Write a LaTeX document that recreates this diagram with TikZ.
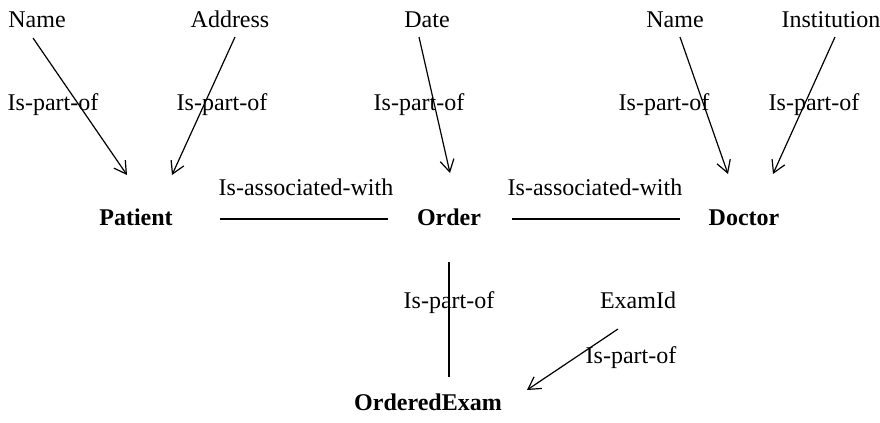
\documentclass[tikz,border=0pt]{standalone}
\usepackage{fontspec}
\setmainfont{Liberation Serif}
\usetikzlibrary{arrows.meta}
\begin{document}
\begin{tikzpicture}[x=0.5pt,y=-0.5pt,
  lbl/.style={inner sep=0pt,anchor=base,font=\fontsize{12}{14}\selectfont},
  ent/.style={lbl,font=\fontsize{12}{14}\selectfont\bfseries},
  partof/.style={line width=0.6pt,-{Straight Barb[length=6pt,width=7pt,line width=0.6pt]}},
  assoc/.style={line width=0.6pt}]
\useasboundingbox (0,0) rectangle (880,423);
% attribute labels
\node[lbl] (name1) at (37,27) {Name};
\node[lbl] (addr) at (230,27) {Address};
\node[lbl] (date) at (427,27) {Date};
\node[lbl] (name2) at (675,27) {Name};
\node[lbl] (inst) at (831,27) {Institution};
\node[lbl] (examid) at (638,308) {ExamId};
% entities
\node[ent] (patient) at (136,225) {Patient};
\node[ent] (order) at (449,225) {Order};
\node[ent] (doctor) at (744,225) {Doctor};
\node[ent] (oexam) at (428,410) {OrderedExam};
% relation labels
\node[lbl] (l1) at (53,110) {Is-part-of};
\node[lbl] (l2) at (222,110) {Is-part-of};
\node[lbl] (l3) at (419,110) {Is-part-of};
\node[lbl] (l4) at (664,110) {Is-part-of};
\node[lbl] (l5) at (814,110) {Is-part-of};
\node[lbl] (l6) at (449,308) {Is-part-of};
\node[lbl] (l7) at (631,363) {Is-part-of};
\node[lbl] (a1) at (306,195) {Is-associated-with};
\node[lbl] (a2) at (595,195) {Is-associated-with};
% connector end points
\coordinate (n1s) at (33,38);   \coordinate (n1e) at (127,175);
\coordinate (ads) at (235,37);  \coordinate (ade) at (172,175);
\coordinate (dts) at (419,37);  \coordinate (dte) at (450,173);
\coordinate (n2s) at (680,37);  \coordinate (n2e) at (728,174);
\coordinate (ins) at (835,37);  \coordinate (ine) at (773,174);
\coordinate (exs) at (618,329); \coordinate (exe) at (527,390);
\coordinate (pa1) at (220,219); \coordinate (pa2) at (388,219);
\coordinate (od1) at (512,219); \coordinate (od2) at (680,219);
\coordinate (oe1) at (449,262); \coordinate (oe2) at (449,377);
% connectors
\draw[partof] (n1s) -- (n1e);
\draw[partof] (ads) -- (ade);
\draw[partof] (dts) -- (dte);
\draw[partof] (n2s) -- (n2e);
\draw[partof] (ins) -- (ine);
\draw[partof] (exs) -- (exe);
\draw[assoc] (pa1) -- (pa2);
\draw[assoc] (od1) -- (od2);
\draw[assoc] (oe1) -- (oe2);
\end{tikzpicture}
\end{document}
